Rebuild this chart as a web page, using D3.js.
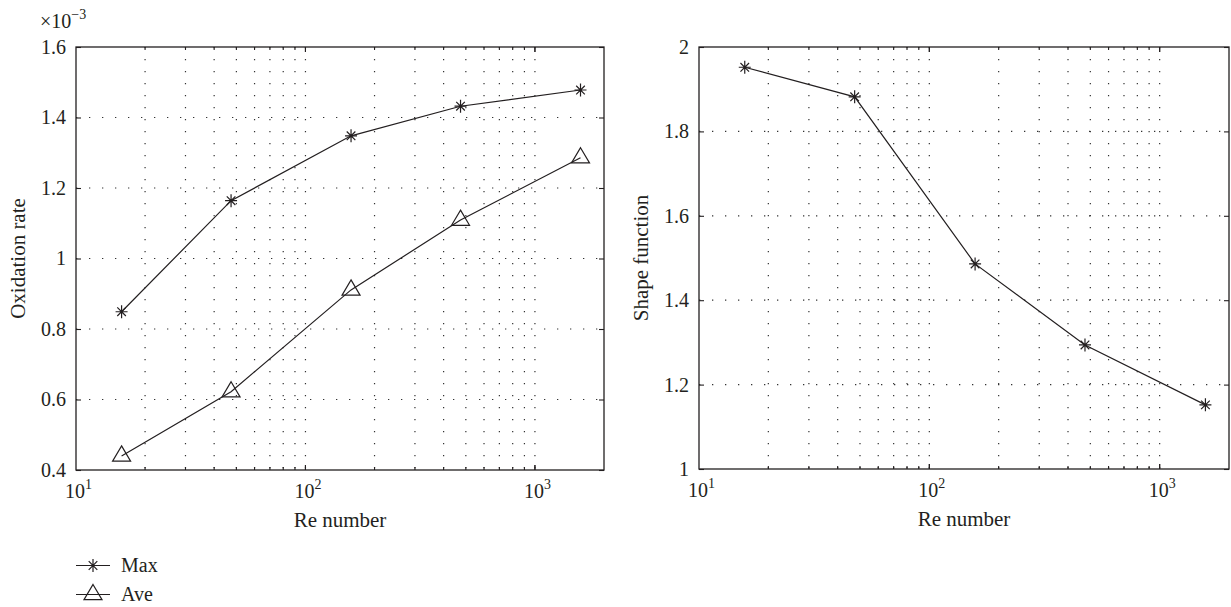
<!DOCTYPE html>
<html>
<head>
<meta charset="utf-8">
<script src="https://cdn.jsdelivr.net/npm/d3@7"></script>
<style>
  body { margin: 0; background: #fff; }
  svg text { font-family: "Liberation Serif", "Times New Roman", serif; fill: #231f20; }
</style>
</head>
<body>
<svg id="chart" width="1231" height="607"></svg>
<script>
// Re numbers shared by both panels
var reNumbers = [15.8, 47.4, 158, 474, 1580];
// oxidation rate, in units of 1e-3
var maxRate = [0.849, 1.164, 1.348, 1.432, 1.478];
var aveRate = [0.44, 0.622, 0.911, 1.109, 1.286];
var shapeFunction = [1.952, 1.882, 1.486, 1.294, 1.152];

var xDecades = [1, 2, 3];
var rateTicks = [0.4, 0.6, 0.8, 1, 1.2, 1.4, 1.6];
var shapeTicks = [1, 1.2, 1.4, 1.6, 1.8, 2];

var ink = '#231f20';
var svg = d3.select('#chart');

function asterisk(sel) {
    sel.attr('d', 'M-6,0H6M0,-6.5V6.5M-4.3,-4.3L4.3,4.3M-4.3,4.3L4.3,-4.3')
        .attr('fill', 'none').attr('stroke', ink).attr('stroke-width', 1.2);
}

function triangle(sel) {
    sel.attr('d', 'M0,-10L9,5.2L-9,5.2Z')
        .attr('fill', 'none').attr('stroke', ink).attr('stroke-width', 1.2);
}

function drawPanel(opt) {
    var w = opt.right - opt.left,
        h = opt.bottom - opt.top;

    var x = d3.scaleLog().domain([10, 2000]).range([0, w]);
    var y = d3.scaleLinear().domain(opt.yDomain).range([h, 0]);

    var g = svg.append('g').attr('transform', 'translate(' + opt.left + ',' + opt.top + ')');

    var xTicks = x.ticks().filter(function(d) { return d > 10 && d < 2000; });
    var isMajor = function(d) { return Math.abs(Math.log10(d) - Math.round(Math.log10(d))) < 1e-9; };

    // dotted grid
    g.append('g').selectAll('line')
        .data(xTicks)
        .enter()
        .append('line')
        .attr('x1', function(d) { return x(d); })
        .attr('x2', function(d) { return x(d); })
        .attr('y1', 0).attr('y2', h)
        .attr('stroke', '#333').attr('stroke-width', 1.2)
        .attr('stroke-dasharray', '1.3,10.7');

    g.append('g').selectAll('line')
        .data(opt.yTicks.slice(1, -1))
        .enter()
        .append('line')
        .attr('y1', function(d) { return y(d); })
        .attr('y2', function(d) { return y(d); })
        .attr('x1', 0).attr('x2', w)
        .attr('stroke', '#333').attr('stroke-width', 1.2)
        .attr('stroke-dasharray', '1.3,11.7');

    // inward ticks on all four sides
    [['bottom', h, -1], ['top', 0, 1]].forEach(function(s) {
        g.append('g').selectAll('line')
            .data(xTicks.concat([100, 1000]))
            .enter()
            .append('line')
            .attr('x1', function(d) { return x(d); })
            .attr('x2', function(d) { return x(d); })
            .attr('y1', s[1])
            .attr('y2', function(d) { return s[1] + s[2] * (isMajor(d) ? 5 : 3); })
            .attr('stroke', ink).attr('stroke-width', 1.1);
    });

    var yAxis = d3.axisLeft(y).tickValues(opt.yTicks).tickSize(-5).tickPadding(10)
        .tickFormat(function(d) { return String(+d.toFixed(1)); });
    var yAxisR = d3.axisRight(y).tickValues(opt.yTicks).tickSize(-5).tickFormat('');

    var ya = g.append('g').call(yAxis);
    g.append('g').attr('transform', 'translate(' + w + ',0)').call(yAxisR);
    g.selectAll('.domain').remove();
    g.selectAll('.tick line').attr('stroke', ink).attr('stroke-width', 1.1);
    ya.selectAll('text').attr('font-size', 20).attr('fill', ink)
        .style('font-family', '"Liberation Serif", serif');

    g.append('rect').attr('width', w).attr('height', h)
        .attr('fill', 'none').attr('stroke', ink).attr('stroke-width', 1.3);

    // x tick labels 10^n
    var xl = g.append('g').selectAll('text')
        .data(xDecades)
        .enter()
        .append('text')
        .attr('x', function(d) { return x(Math.pow(10, d)) - 11; })
        .attr('y', h + 28)
        .attr('font-size', 20);
    xl.append('tspan').text('10');
    xl.append('tspan').attr('dy', -9).attr('font-size', 14).text(function(d) { return d; });

    g.append('text')
        .attr('x', w / 2).attr('y', h + 57)
        .attr('text-anchor', 'middle').attr('font-size', 21)
        .text('Re number');

    g.append('text')
        .attr('transform', 'translate(' + opt.yLabelX + ',' + h / 2 + ') rotate(-90)')
        .attr('text-anchor', 'middle').attr('font-size', 21)
        .text(opt.yLabel);

    var line = d3.line()
        .x(function(d) { return x(d[0]); })
        .y(function(d) { return y(d[1]); });

    opt.series.forEach(function(s) {
        var pts = d3.zip(reNumbers, s.values);
        g.append('path').datum(pts)
            .attr('d', line)
            .attr('fill', 'none').attr('stroke', ink).attr('stroke-width', 1.2);
        g.append('g').selectAll('path')
            .data(pts)
            .enter()
            .append('path')
            .attr('transform', function(d) { return 'translate(' + x(d[0]) + ',' + y(d[1]) + ')'; })
            .call(s.marker);
    });

    return g;
}

drawPanel({
    left: 76, right: 604, top: 47, bottom: 470,
    yDomain: [0.4, 1.6], yTicks: rateTicks,
    yLabel: 'Oxidation rate', yLabelX: -51,
    series: [{ values: maxRate, marker: asterisk }, { values: aveRate, marker: triangle }]
});

drawPanel({
    left: 699, right: 1229, top: 47, bottom: 469,
    yDomain: [1, 2], yTicks: shapeTicks,
    yLabel: 'Shape function', yLabelX: -51,
    series: [{ values: shapeFunction, marker: asterisk }]
});

// exponent above left axis
var ex = svg.append('text').attr('x', 40).attr('y', 28).attr('font-size', 20);
ex.append('tspan').text('\u00d710');
ex.append('tspan').attr('dy', -9).attr('font-size', 14).text('\u22123');

// legend
var legendItems = [
    { name: 'Max', marker: asterisk, y: 565.5 },
    { name: 'Ave', marker: triangle, y: 594.5 }
];
var lg = svg.append('g').selectAll('g')
    .data(legendItems)
    .enter()
    .append('g')
    .attr('transform', function(d) { return 'translate(76,' + d.y + ')'; });
lg.append('line').attr('x1', 0).attr('x2', 34)
    .attr('stroke', ink).attr('stroke-width', 1.2);
lg.append('path').attr('transform', 'translate(17,0)')
    .each(function(d) { d3.select(this).call(d.marker); });
lg.append('text').attr('x', 45).attr('y', 6).attr('font-size', 20)
    .text(function(d) { return d.name; });
</script>
</body>
</html>
